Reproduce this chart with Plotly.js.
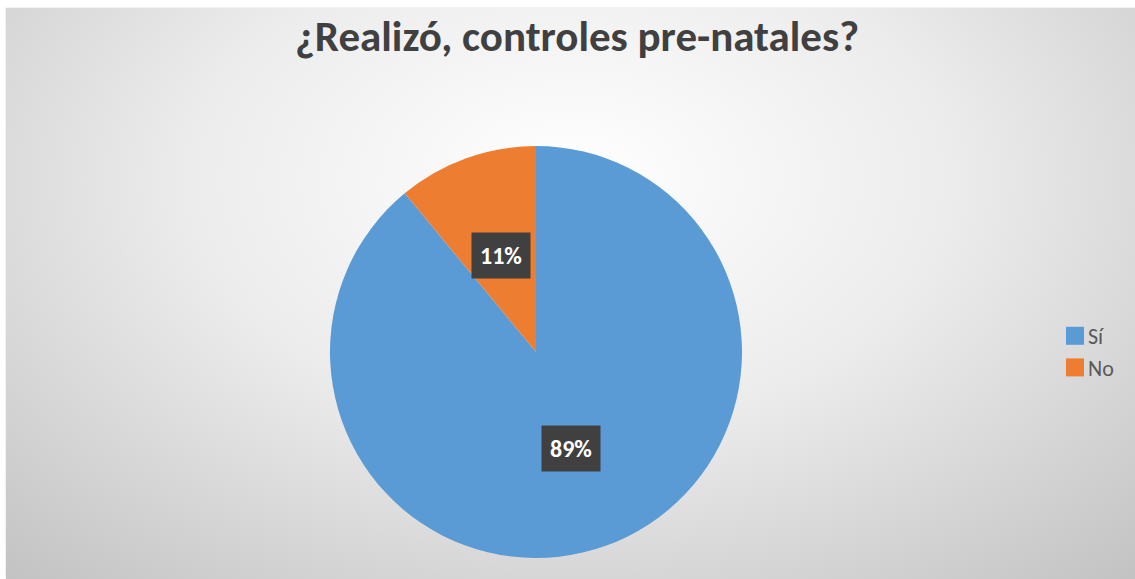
<!DOCTYPE html>
<html>
<head>
<meta charset="utf-8">
<script src="https://cdn.plot.ly/plotly-3.0.1.min.js"></script>
<style>
  html, body { margin: 0; padding: 0; background: #ffffff; width: 1135px; height: 579px; overflow: hidden; }
  #bg { position: absolute; left: 6px; top: 8px; width: 1129px; height: 571px;
        background: radial-gradient(ellipse 75% 95% at 50% 30%, #ffffff 0%, #ececec 45%, #c2c2c2 100%);
        box-shadow: 0 0 2px rgba(0,0,0,0.15); }
  #chart { position: absolute; left: 0; top: 0; width: 1135px; height: 579px; }
</style>
</head>
<body>
<div id="bg"></div>
<div id="chart"></div>
<script>
const categories = ["Sí", "No"];
const values = [89, 11];
const colors = ["#5B9BD5", "#ED7D31"];
const chartTitle = "¿Realizó, controles pre-natales?";

const W = 1135, H = 579;
const cx = 536, cy = 352, R = 206;
const domX = [(cx - R) / W, (cx + R) / W];
const domY = [(H - (cy + R)) / H, (H - (cy - R)) / H];

// label positions derived from the data (mid-angle of each slice, clockwise from 12 o'clock)
const total = values.reduce((a, b) => a + b, 0);
const annotations = [];
let acc = 0;
values.forEach((v, i) => {
  const mid = (acc + v / 2) / total * 2 * Math.PI;
  acc += v;
  const r = 0.5 * R;
  const px = cx + r * Math.sin(mid);
  const py = cy - r * Math.cos(mid);
  annotations.push({
    x: px / W, y: 1 - py / H, xref: "paper", yref: "paper",
    text: "<b>" + Math.round(v / total * 100) + "%</b>",
    showarrow: false,
    font: { family: "Carlito, Lato, sans-serif", size: 24, color: "#ffffff" },
    bgcolor: "#404040", borderpad: 8, xanchor: "center", yanchor: "middle"
  });
});

const data = [{
  type: "pie",
  labels: categories,
  values: values,
  sort: false,
  direction: "clockwise",
  rotation: 0,
  marker: { colors: colors, line: { color: "#ffffff", width: 0 } },
  textinfo: "none",
  hoverinfo: "label+percent",
  domain: { x: domX, y: domY }
}];

const layout = {
  width: W, height: H,
  margin: { l: 0, r: 0, t: 0, b: 0 },
  paper_bgcolor: "rgba(0,0,0,0)",
  plot_bgcolor: "rgba(0,0,0,0)",
  title: {
    text: "<b>" + chartTitle + "</b>",
    font: { family: "Carlito, Lato, sans-serif", size: 43, color: "#404040" },
    x: 577 / W, xanchor: "center", y: 1 - 36 / H, yanchor: "middle"
  },
  showlegend: true,
  legend: {
    x: 1048 / W, xanchor: "left", y: 1 - 352 / H, yanchor: "middle",
    font: { family: "Carlito, Lato, sans-serif", size: 22, color: "#595959" },
    bgcolor: "rgba(0,0,0,0)", itemwidth: 30, tracegroupgap: 0
  },
  annotations: annotations
};

Plotly.newPlot("chart", data, layout, { displayModeBar: false, staticPlot: true }).then(() => {
  document.querySelectorAll("#chart .legend .legendpoints path").forEach(p => {
    const t = p.getAttribute("transform") || "";
    p.setAttribute("transform", t + " translate(7,0) scale(1.5)");
  });
});
</script>
</body>
</html>
